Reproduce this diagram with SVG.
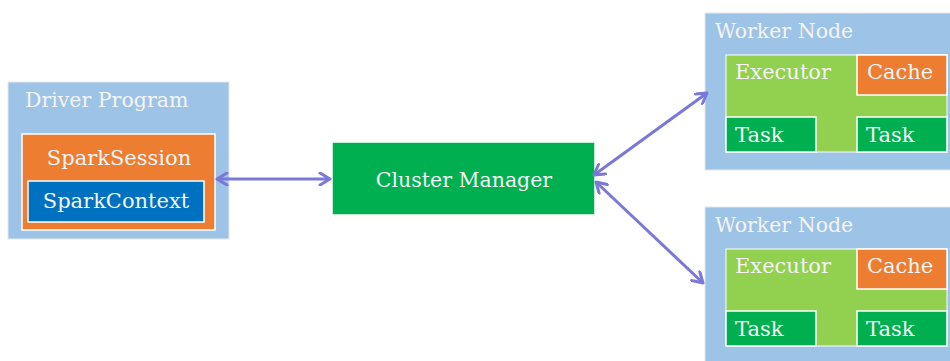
<svg xmlns="http://www.w3.org/2000/svg" width="950" height="361" viewBox="0 0 950 361">
<style>
text{font-family:"DejaVu Serif","Liberation Serif",serif;fill:#f4f4f4}
.outer{font-size:20.5px}
.inner{font-size:21px}
.cont{fill:#9dc3e6;stroke:#e4e8ee;stroke-width:1}
.orange{fill:#ed7d31;stroke:#fff;stroke-width:1.5}
.blue{fill:#0070c0;stroke:#fff;stroke-width:1.5}
.green{fill:#00b050;stroke:#fff;stroke-width:1.5}
.lgreen{fill:#92d050;stroke:#fff;stroke-width:1}
.conn{stroke:#7b78d8;stroke-width:3;fill:none;marker-start:url(#ah);marker-end:url(#ah)}
</style>
<defs>
<marker id="ah" viewBox="0 0 14 14" refX="12" refY="7" markerWidth="14" markerHeight="14" markerUnits="userSpaceOnUse" orient="auto-start-reverse">
<path d="M2,1 L12,7 L2,13" fill="none" stroke="#7b78d8" stroke-width="3" stroke-linecap="round" stroke-linejoin="round"/>
</marker>
</defs>
<rect width="950" height="361" fill="#fff"/>
<g id="driver">
<rect class="cont" x="8" y="82" width="221" height="157"/>
<text class="outer" x="25" y="107">Driver Program</text>
<rect class="orange" x="22" y="134" width="193" height="96"/>
<text class="inner" x="119" y="165" text-anchor="middle">SparkSession</text>
<rect class="blue" x="28" y="181" width="176" height="41"/>
<text class="inner" x="116" y="208" text-anchor="middle">SparkContext</text>
</g>
<g id="cluster">
<rect class="green" x="332" y="142" width="263" height="73"/>
<text class="outer" x="464" y="187" text-anchor="middle">Cluster Manager</text>
</g>
<g id="worker1">
<rect class="cont" x="705" y="13" width="250" height="157"/>
<text class="outer" x="715" y="38">Worker Node</text>
<rect class="lgreen" x="726" y="55" width="221" height="97"/>
<text class="inner" x="735" y="79">Executor</text>
<rect class="orange" x="857" y="55" width="90" height="40"/>
<text class="inner" x="867" y="79">Cache</text>
<rect class="green" x="726" y="117" width="90" height="35"/>
<text class="inner" x="735" y="142">Task</text>
<rect class="green" x="857" y="117" width="90" height="35"/>
<text class="inner" x="866" y="142">Task</text>
</g>
<g id="worker2">
<rect class="cont" x="705" y="207" width="250" height="160"/>
<text class="outer" x="715" y="232">Worker Node</text>
<rect class="lgreen" x="726" y="249" width="221" height="97"/>
<text class="inner" x="735" y="273">Executor</text>
<rect class="orange" x="857" y="249" width="90" height="40"/>
<text class="inner" x="867" y="273">Cache</text>
<rect class="green" x="726" y="311" width="90" height="35"/>
<text class="inner" x="735" y="336">Task</text>
<rect class="green" x="857" y="311" width="90" height="35"/>
<text class="inner" x="866" y="336">Task</text>
</g>
<g id="connectors">
<line class="conn" x1="217" y1="179" x2="330" y2="179"/>
<line class="conn" x1="594" y1="175" x2="707" y2="93"/>
<line class="conn" x1="596" y1="182" x2="703" y2="283"/>
</g>
</svg>
